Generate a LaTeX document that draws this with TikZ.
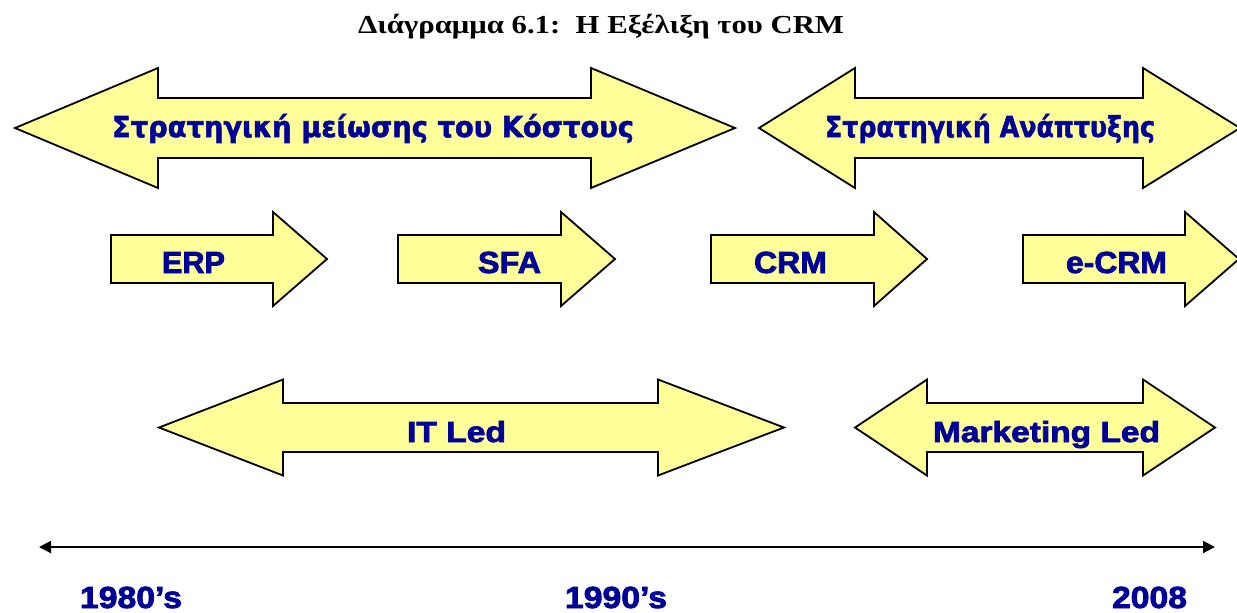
\documentclass[tikz,border=0pt]{standalone}
\usepackage{fontspec}
\usepackage{graphicx}
\usetikzlibrary{arrows.meta}

\newfontfamily\grkfont{DejaVu Sans}[BoldFeatures={FakeBold=1.8}]
\newfontfamily\blkfont{Liberation Sans}[BoldFeatures={FakeBold=2.4}]
\newfontfamily\ttlfont{Liberation Serif}

\definecolor{arrowfill}{HTML}{FFFF99}
\definecolor{labelblue}{HTML}{000099}

% text scaled to a given width (px) and cap height (px); 1px = 0.5pt
\newlength\fitW
\newlength\fitH
\newcommand\fitxy[4]{%
  \settowidth\fitW{#1#4}%
  \settoheight\fitH{#1H}%
  \pgfmathsetmacro\fitsx{#2*0.5/\fitW}%
  \pgfmathsetmacro\fitsy{#3*0.5/\fitH}%
  \scalebox{\fitsx}[\fitsy]{#1#4}}

% right-pointing block arrow: left, head base, tip, centre y, shaft half, head half
\newcommand\blockarrow[6]{%
  \draw[arrowbox] ({#1},{#4-#5}) -- ({#2},{#4-#5}) -- ({#2},{#4-#6}) -- ({#3},{#4})
    -- ({#2},{#4+#6}) -- ({#2},{#4+#5}) -- ({#1},{#4+#5}) -- cycle;}
% two-headed block arrow: left tip, left base, right base, right tip, centre y, shaft half, head half
\newcommand\twinarrow[7]{%
  \draw[arrowbox] ({#1},{#5}) -- ({#2},{#5-#7}) -- ({#2},{#5-#6}) -- ({#3},{#5-#6})
    -- ({#3},{#5-#7}) -- ({#4},{#5}) -- ({#3},{#5+#7}) -- ({#3},{#5+#6})
    -- ({#2},{#5+#6}) -- ({#2},{#5+#7}) -- cycle;}

\begin{document}
\begin{tikzpicture}[x=0.5pt, y=-0.5pt,
  arrowbox/.style={draw=black, line width=0.9pt, fill=arrowfill, line join=miter},
  lbl/.style={anchor=base, inner sep=0pt, text=labelblue},
  yearline/.style={draw=black, line width=1pt, {Triangle[length=6pt,width=6pt]}-{Triangle[length=6pt,width=6pt]}}]

\fill[white] (0,0) rectangle (1237,612);
\useasboundingbox (0,0) rectangle (1237,612);

% title
\node[anchor=base, inner sep=0pt] (title) at (601,33)
  {\fitxy{\ttlfont\bfseries}{486}{17}{Διάγραμμα 6.1:\ \ Η Εξέλιξη του CRM}};

% strategy arrows
\twinarrow{15}{158}{591}{735}{128}{30}{60}
\twinarrow{759}{855}{1143}{1240}{128}{30}{60}
\node[lbl] (cost) at (373,137)
  {\fitxy{\grkfont\bfseries}{522}{21}{Στρατηγική μείωσης του Κόστους}};
\node[lbl] (growth) at (990,137)
  {\fitxy{\grkfont\bfseries}{330}{21}{Στρατηγική Ανάπτυξης}};

% system arrows
\blockarrow{111}{273}{327}{259}{24}{47}
\blockarrow{398}{561}{615}{259}{24}{47}
\blockarrow{711}{874}{927}{259}{24}{47}
\blockarrow{1023}{1185}{1239}{259}{24}{47}
\node[lbl] (erp) at (193.5,273) {\fitxy{\blkfont\bfseries}{63}{21}{ERP}};
\node[lbl] (sfa) at (509.5,273) {\fitxy{\blkfont\bfseries}{63}{21}{SFA}};
\node[lbl] (crm) at (790.5,273) {\fitxy{\blkfont\bfseries}{73}{21}{CRM}};
\node[lbl] (ecrm) at (1116.5,273) {\fitxy{\blkfont\bfseries}{101}{21}{e-CRM}};

% driver arrows
\twinarrow{159}{283}{658}{784}{427.5}{24.5}{48}
\twinarrow{855}{927}{1143}{1215}{427.5}{24.5}{48}
\node[lbl] (itled) at (456.5,442) {\fitxy{\blkfont\bfseries}{99}{20}{IT Led}};
\node[lbl] (mkled) at (1046.5,442) {\fitxy{\blkfont\bfseries}{227}{20}{Marketing Led}};

% time line
\coordinate (tstart) at (39,547);
\coordinate (tend) at (1215,547);
\draw[yearline] (tstart) -- (tend);
\node[lbl] (y80) at (131,608) {\fitxy{\blkfont\bfseries}{102}{21}{1980’s}};
\node[lbl] (y90) at (616,608) {\fitxy{\blkfont\bfseries}{102}{21}{1990’s}};
\node[lbl] (y08) at (1149.5,608) {\fitxy{\blkfont\bfseries}{75}{21}{2008}};

\end{tikzpicture}
\end{document}
